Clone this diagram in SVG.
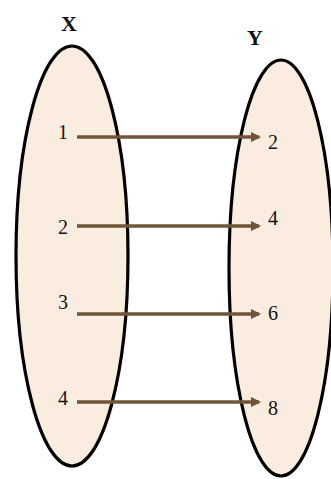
<svg xmlns="http://www.w3.org/2000/svg" width="331" height="479" viewBox="0 0 331 479">
<style>
.set{fill:#fbece0;stroke:#000;stroke-width:3.2}
.t{font-family:"Liberation Serif","DejaVu Serif",serif;font-size:20px;fill:#111;text-anchor:middle}
.h{font-weight:bold;font-size:22px}
.a{stroke:#705538;stroke-width:3.5;fill:none;marker-end:url(#ah)}
</style>
<defs>
<marker id="ah" viewBox="0 0 10 10" refX="8" refY="5" markerWidth="3" markerHeight="3" orient="auto" markerUnits="strokeWidth">
<path d="M0,0 L10,5 L0,10 z" fill="#705538"/>
</marker>
</defs>
<rect width="331" height="479" fill="#fff"/>
<g id="setX">
<ellipse class="set" cx="72" cy="256" rx="56" ry="210"/>
<text class="t h" x="69" y="31">X</text>
<text class="t" x="63" y="139">1</text>
<text class="t" x="63" y="234">2</text>
<text class="t" x="63" y="309">3</text>
<text class="t" x="63" y="405">4</text>
</g>
<g id="setY">
<ellipse class="set" cx="281" cy="268" rx="52" ry="208"/>
<text class="t h" x="255" y="45">Y</text>
<text class="t" x="273" y="149">2</text>
<text class="t" x="273" y="225">4</text>
<text class="t" x="273" y="320">6</text>
<text class="t" x="273" y="415">8</text>
</g>
<g id="connectors">
<line class="a" x1="77" y1="137" x2="259" y2="137"/>
<line class="a" x1="77" y1="226" x2="259" y2="226"/>
<line class="a" x1="77" y1="314" x2="259" y2="314"/>
<line class="a" x1="77" y1="402" x2="259" y2="402"/>
</g>
</svg>
